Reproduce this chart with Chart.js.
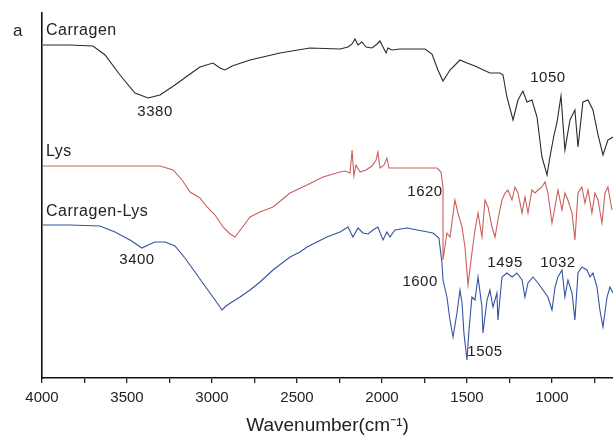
<!DOCTYPE html>
<html>
<head>
<meta charset="utf-8">
<script src="https://cdn.jsdelivr.net/npm/chart.js@4.4.0/dist/chart.umd.min.js"></script>
<style>
  html, body { margin: 0; padding: 0; background: #fff; }
  #wrap { width: 613px; height: 439px; }
</style>
</head>
<body>
<div id="wrap"><canvas id="ftir" width="613" height="439"></canvas></div>
<script>
// FTIR spectra, offset transmittance (arbitrary units)
const xTicks = [4000, 3750, 3500, 3250, 3000, 2750, 2500, 2250, 2000, 1750, 1500, 1250, 1000, 750];

const carragenWave = [3994, 3835, 3700, 3629, 3541, 3453, 3376, 3306, 3218, 3129, 3071, 2994, 2953, 2924, 2882,
  2776, 2600, 2424, 2247, 2200, 2176, 2159, 2141, 2118, 2094, 2059, 2029, 2012, 1994, 1976, 1965, 1941, 1894,
  1747, 1706, 1671, 1641, 1600, 1541, 1500, 1453, 1365, 1306, 1288, 1265, 1229, 1200, 1171, 1147, 1118, 1088,
  1059, 1029, 1012, 988, 971, 947, 924, 894, 865, 847, 818, 788, 759, 729, 700, 671, 641];
const carragenT = [333, 333, 332, 323, 303, 285, 280, 283, 293, 304, 311, 315, 310, 308, 312,
  318, 325, 330, 329, 331, 334, 339, 333, 336, 331, 330, 334, 337, 331, 325, 330, 328, 329,
  329, 324, 308, 297, 308, 318, 315, 312, 305, 305, 303, 281, 258, 278, 287, 276, 278, 261,
  221, 203, 221, 243, 255, 282, 228, 258, 268, 231, 276, 278, 268, 243, 223, 238, 241];

const lysWave = [3994, 3659, 3306, 3229, 3176, 3129, 3071, 3029, 2982, 2935, 2894, 2865, 2824, 2776, 2718, 2641,
  2541, 2441, 2347, 2247, 2218, 2188, 2176, 2165, 2153, 2129, 2094, 2059, 2035, 2024, 2012, 1988, 1971, 1959,
  1929, 1676, 1653, 1641, 1641, 1618, 1600, 1571, 1553, 1529, 1512, 1494, 1471, 1453, 1435, 1412, 1394, 1376,
  1353, 1335, 1318, 1294, 1276, 1259, 1235, 1218, 1200, 1176, 1159, 1141, 1118, 1100, 1082, 1059, 1041, 1024,
  1000, 982, 965, 941, 924, 906, 882, 865, 847, 824, 806, 788, 765, 747, 729, 706, 688, 671, 647];
const lysT = [212, 212, 212, 208, 198, 186, 180, 171, 163, 151, 144, 141, 150, 161, 166, 171,
  185, 193, 201, 206, 207, 205, 228, 202, 213, 206, 208, 212, 218, 226, 210, 213, 220, 210,
  210, 210, 206, 191, 118, 145, 141, 178, 165, 151, 131, 93, 125, 148, 165, 141, 178, 171,
  151, 141, 158, 178, 185, 188, 178, 191, 185, 165, 181, 165, 188, 185, 188, 191, 196, 185,
  155, 171, 188, 168, 185, 178, 165, 138, 185, 191, 175, 188, 165, 185, 178, 155, 185, 191, 168];

const mixWave = [3994, 3835, 3659, 3571, 3482, 3412, 3376, 3335, 3276, 3218, 3159, 3071, 2982, 2941, 2918, 2882,
  2835, 2776, 2718, 2641, 2541, 2482, 2441, 2324, 2247, 2200, 2171, 2141, 2112, 2082, 2053, 2024, 1994, 1971,
  1953, 1924, 1853, 1700, 1665, 1647, 1641, 1618, 1600, 1582, 1559, 1541, 1529, 1518, 1500, 1488, 1471, 1453,
  1435, 1412, 1406, 1382, 1365, 1347, 1324, 1318, 1294, 1265, 1235, 1206, 1176, 1159, 1141, 1112, 1082, 1053,
  1024, 1000, 982, 965, 941, 924, 906, 882, 865, 847, 824, 794, 776, 759, 735, 718, 700, 676, 659, 641];
const mixT = [153, 153, 152, 146, 138, 130, 133, 136, 136, 132, 120, 99, 78, 68, 72, 76,
  81, 88, 96, 108, 121, 126, 131, 141, 146, 151, 141, 150, 145, 144, 148, 151, 138, 146,
  141, 148, 150, 145, 140, 115, 98, 81, 58, 41, 65, 88, 75, 45, 18, 48, 81, 78,
  101, 71, 45, 78, 88, 71, 85, 58, 101, 105, 101, 105, 98, 81, 95, 101, 95, 88,
  81, 68, 91, 101, 108, 81, 98, 85, 58, 105, 111, 108, 101, 105, 91, 68, 51, 81, 91, 85];

// peak labels and series names: text, wavenumber, transmittance
const noteText = ['3380', '1050', '1620', '3400', '1600', '1495', '1032', '1505'];
const noteWave = [3335, 1024, 1747, 3441, 1776, 1276, 965, 1394];
const noteT = [266, 300, 186, 118, 96, 115, 115, 26];
const nameText = ['Carragen', 'Lys', 'Carragen-Lys'];
const nameT = [347, 226, 166];

const pairs = (xs, ys) => xs.map((x, i) => ({ x, y: ys[i] }));

const notesPlugin = {
  id: 'notes',
  afterDatasetsDraw(chart) {
    const { ctx, scales: { x, y }, chartArea } = chart;
    ctx.save();
    ctx.fillStyle = '#222';
    ctx.textBaseline = 'middle';
    ctx.letterSpacing = '0.5px';

    ctx.font = '15px Arial, "Liberation Sans", sans-serif';
    ctx.textAlign = 'center';
    noteText.forEach((t, i) => {
      ctx.fillText(t, x.getPixelForValue(noteWave[i]), y.getPixelForValue(noteT[i]));
    });

    ctx.font = '16px Arial, "Liberation Sans", sans-serif';
    ctx.textAlign = 'left';
    nameText.forEach((t, i) => {
      ctx.fillText(t, chartArea.left + 4, y.getPixelForValue(nameT[i]));
    });

    ctx.font = '17px Arial, "Liberation Sans", sans-serif';
    ctx.textAlign = 'center';
    ctx.fillText('a', chartArea.left - 24, y.getPixelForValue(nameT[0]));
    ctx.restore();
  }
};

const line = (data, color) => ({
  data,
  borderColor: color,
  borderWidth: 1.1,
  pointRadius: 0,
  tension: 0,
  fill: false,
});

new Chart(document.getElementById('ftir'), {
  type: 'line',
  data: {
    datasets: [
      line(pairs(carragenWave, carragenT), '#2a2a2a'),
      line(pairs(lysWave, lysT), '#c9605c'),
      line(pairs(mixWave, mixT), '#3652a3'),
    ]
  },
  options: {
    responsive: false,
    animation: false,
    devicePixelRatio: 1,
    layout: { padding: { top: 13, right: 0, left: 0, bottom: 0 } },
    plugins: {
      legend: { display: false },
      tooltip: { enabled: false },
    },
    scales: {
      x: {
        type: 'linear',
        reverse: true,
        min: 641,
        max: 4000,
        afterBuildTicks(scale) {
          scale.ticks = xTicks.map(v => ({ value: v }));
        },
        afterFit(scale) { scale.height = 61; },
        ticks: {
          autoSkip: false,
          maxRotation: 0,
          padding: 6,
          color: '#222',
          font: { family: 'Arial, "Liberation Sans", sans-serif', size: 15 },
          callback: v => (v % 500 === 0 ? String(v) : ''),
        },
        grid: { drawOnChartArea: false, drawTicks: true, tickLength: 5, color: '#222', lineWidth: 1.3 },
        border: { color: '#111', width: 1.6 },
        title: {
          display: true,
          text: 'Wavenumber(cm⁻¹)',
          color: '#222',
          font: { family: 'Arial, "Liberation Sans", sans-serif', size: 19 },
          padding: { top: 2, bottom: 2 },
        },
      },
      y: {
        min: 0,
        max: 365,
        afterFit(scale) { scale.width = 42; },
        ticks: { display: false },
        grid: { drawOnChartArea: false, drawTicks: false },
        border: { color: '#111', width: 1.6 },
      }
    }
  },
  plugins: [notesPlugin]
});
</script>
</body>
</html>
